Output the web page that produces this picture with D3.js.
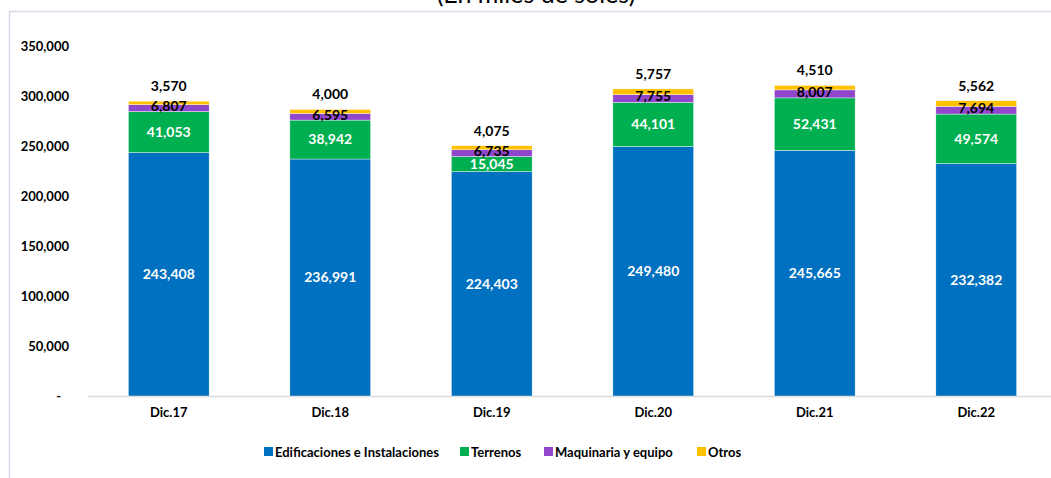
<!DOCTYPE html>
<html>
<head>
<meta charset="utf-8">
<script src="https://cdn.jsdelivr.net/npm/d3@7"></script>
<style>
  html, body { margin: 0; padding: 0; background: #fff; }
  svg { display: block; font-family: Lato, "Open Sans", sans-serif; }
</style>
</head>
<body>
<svg id="chart" width="1051" height="478"></svg>
<script>
// Periods on the x axis
const categories = ["Dic.17", "Dic.18", "Dic.19", "Dic.20", "Dic.21", "Dic.22"];
// Stacked components (miles de soles)
const edificaciones = [243408, 236991, 224403, 249480, 245665, 232382];
const terrenos = [41053, 38942, 15045, 44101, 52431, 49574];
const maquinaria = [6807, 6595, 6735, 7755, 8007, 7694];
const otros = [3570, 4000, 4075, 5757, 4510, 5562];
const seriesNames = ["Edificaciones e Instalaciones", "Terrenos", "Maquinaria y equipo", "Otros"];
const yTicks = [0, 50000, 100000, 150000, 200000, 250000, 300000, 350000];

const colors = ["#0070C0", "#00B050", "#9147CC", "#FFC000"];
const labelColors = ["#fff", "#fff", "#000", "#000"];

const svg = d3.select("#chart");
const fmt = d3.format(",");

// Outer frame
svg.append("rect")
  .attr("x", 9.5).attr("y", 11.5)
  .attr("width", 1100).attr("height", 600)
  .attr("fill", "none").attr("stroke", "#d6dce5").attr("stroke-width", 1.5);

// Title (partially outside the visible area)
svg.append("text")
  .attr("x", 536).attr("y", 3)
  .attr("text-anchor", "middle")
  .attr("font-size", 25)
  .attr("fill", "#000")
  .text("(En miles de soles)");

const x = d3.scaleBand().domain(categories).range([88, 1057]).paddingInner(0.5).paddingOuter(0.25);
const y = d3.scaleLinear().domain([0, 350000]).range([396, 46]);

// Y tick labels
const yAxis = d3.axisLeft(y).tickValues(yTicks)
  .tickFormat(d => d === 0 ? "-" : fmt(d))
  .tickSize(0).tickPadding(0);
const gy = svg.append("g").attr("transform", "translate(69,0)").call(yAxis);
gy.select(".domain").remove();
gy.selectAll("text")
  .attr("font-size", 13).attr("font-weight", "bold").attr("fill", "#000")
  .attr("font-family", "Lato, sans-serif")
  .attr("dx", d => d === 0 ? -8 : 0);

// Baseline
svg.append("line")
  .attr("x1", 88).attr("x2", 1051)
  .attr("y1", y(0) + 0.5).attr("y2", y(0) + 0.5)
  .attr("stroke", "#d9d9d9").attr("stroke-width", 1.5);

// Stack data
const rows = categories.map((c, i) => ({
  cat: c,
  s0: edificaciones[i], s1: terrenos[i], s2: maquinaria[i], s3: otros[i]
}));
const stack = d3.stack().keys(["s0", "s1", "s2", "s3"]);
const layers = stack(rows);

const g = svg.append("g");
layers.forEach((layer, li) => {
  g.selectAll(null).data(layer).enter().append("rect")
    .attr("x", d => x(d.data.cat))
    .attr("width", x.bandwidth())
    .attr("y", d => y(d[1]))
    .attr("height", d => y(d[0]) - y(d[1]))
    .attr("fill", colors[li])
    .attr("stroke", "#fff").attr("stroke-width", 0.4);
});

// Data labels
layers.forEach((layer, li) => {
  g.selectAll(null).data(layer).enter().append("text")
    .attr("x", d => x(d.data.cat) + x.bandwidth() / 2)
    .attr("y", d => li === 3 ? y(d[1]) - 15 : (y(d[0]) + y(d[1])) / 2 + (li === 2 ? -2 : 0))
    .attr("dy", "0.35em")
    .attr("text-anchor", "middle")
    .attr("font-size", 14).attr("font-weight", "bold")
    .attr("fill", labelColors[li])
    .text(d => fmt(d[1] - d[0]));
});

// Category labels
const xAxis = d3.axisBottom(x).tickSize(0).tickPadding(0);
const gx = svg.append("g").attr("transform", `translate(0,${y(0) + 12})`).call(xAxis);
gx.select(".domain").remove();
gx.selectAll("text")
  .attr("font-size", 13).attr("font-weight", "bold").attr("fill", "#000")
  .attr("font-family", "Lato, sans-serif");

// Legend
const legendX = [264, 460, 544, 697];
const lg = svg.append("g");
seriesNames.forEach((name, i) => {
  lg.append("rect")
    .attr("x", legendX[i]).attr("y", 447)
    .attr("width", 9).attr("height", 9)
    .attr("fill", colors[i]);
  lg.append("text")
    .attr("x", legendX[i] + 11).attr("y", 452)
    .attr("dy", "0.35em")
    .attr("font-size", 13).attr("font-weight", "bold")
    .attr("fill", "#000")
    .text(name);
});
</script>
</body>
</html>
